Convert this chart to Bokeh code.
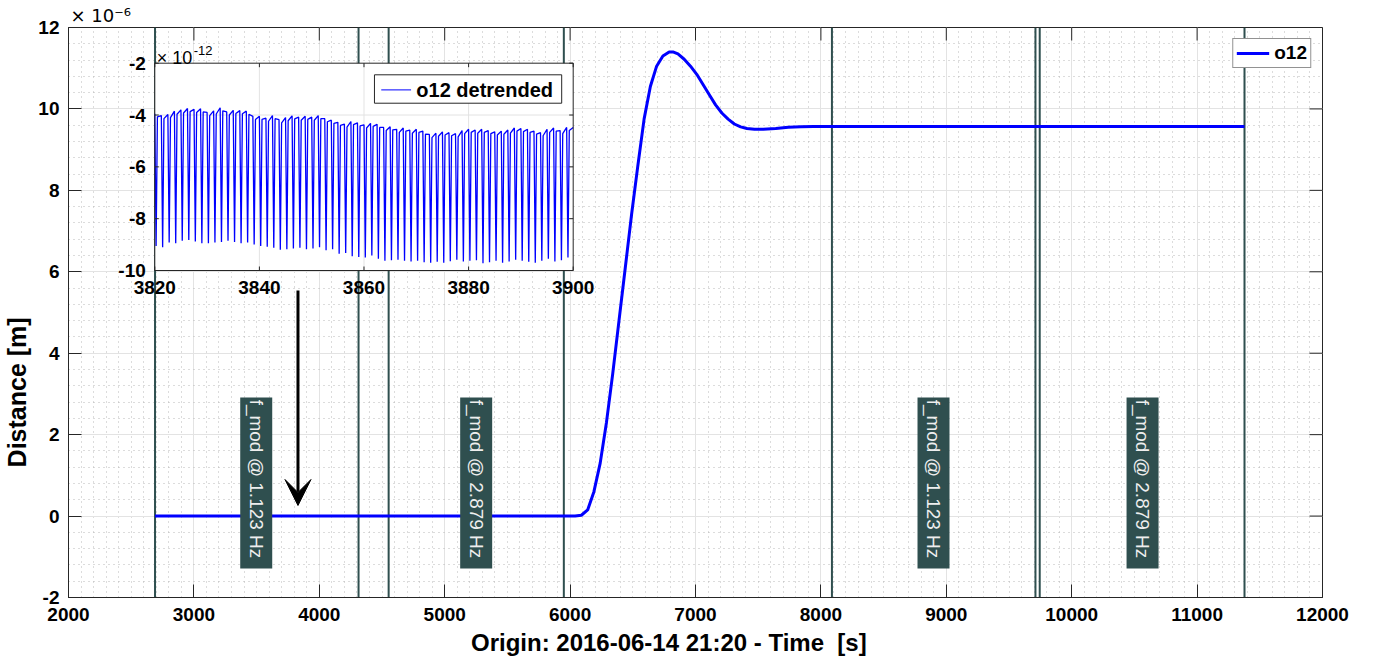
import numpy as np
from math import pi
from bokeh.plotting import figure
from bokeh.models import (Range1d, SingleIntervalTicker, Label, Arrow, Title,
                          VeeHead, Legend, LegendItem)
from bokeh.embed import file_html
from bokeh.resources import INLINE

# ---------------- data ----------------
t_main = [2690, 6000, 6040, 6090, 6140, 6190, 6240, 6290, 6340, 6390, 6440, 6490, 6540,
          6590, 6640, 6690, 6740, 6790, 6820, 6860, 6910, 6960, 7010, 7060, 7110, 7160,
          7210, 7260, 7310, 7360, 7410, 7470, 7540, 7640, 7740, 7840, 7940, 8090, 11378]
d_main = [0.0, 0.0, 0.0, 0.02, 0.15, 0.6, 1.3, 2.3, 3.5, 4.8, 6.1, 7.4, 8.6,
          9.75, 10.55, 11.05, 11.3, 11.4, 11.4, 11.35, 11.22, 11.05, 10.85, 10.6, 10.35, 10.1,
          9.9, 9.75, 9.63, 9.56, 9.52, 9.5, 9.5, 9.52, 9.55, 9.56, 9.57, 9.57, 9.57]

vline_x = [2690, 4313, 4553, 5950, 8088, 9711, 9745, 11378]
label_x = [3497, 5251, 8898, 10565]
label_text = ["f_mod @ 1.123 Hz", "f_mod @ 2.879 Hz", "f_mod @ 1.123 Hz", "f_mod @ 2.879 Hz"]

x_ticks_main = list(range(2000, 12001, 1000))
y_ticks_main = list(range(-2, 13, 2))

# inset: detrended o12, per-cycle upper and lower extremes (x 1e-12 m)
inset_t0 = 3820
inset_period = 1.25
inset_upper = [-3.95, -4.02, -3.98, -3.85, -3.80, -3.75, -3.78, -3.76,
               -3.90, -3.84, -3.72, -3.88, -3.82, -3.83, -3.85, -4.05,
               -4.05, -4.12, -4.02, -4.18, -4.10, -4.03, -4.08, -4.05,
               -4.08, -4.02, -4.14, -4.20, -4.28, -4.35, -4.25, -4.30,
               -4.38, -4.32, -4.36, -4.48, -4.45, -4.55, -4.50, -4.58,
               -4.55, -4.62, -4.75, -4.70, -4.65, -4.68, -4.72, -4.60,
               -4.55, -4.58, -4.55, -4.60, -4.65, -4.62, -4.58, -4.50,
               -4.52, -4.55, -4.62, -4.68, -4.55, -4.50, -4.60, -4.48]
inset_lower = [-9.05, -9.10, -8.92, -8.95, -8.85, -8.82, -8.88, -8.95,
               -8.95, -8.92, -8.90, -8.85, -8.90, -8.95, -8.92, -9.00,
               -9.05, -9.08, -9.12, -9.20, -9.18, -9.15, -9.12, -9.18,
               -9.15, -9.10, -9.22, -9.18, -9.35, -9.32, -9.45, -9.48,
               -9.50, -9.42, -9.55, -9.62, -9.60, -9.58, -9.62, -9.65,
               -9.62, -9.68, -9.70, -9.66, -9.70, -9.64, -9.58, -9.65,
               -9.62, -9.60, -9.72, -9.68, -9.62, -9.70, -9.65, -9.58,
               -9.62, -9.66, -9.70, -9.62, -9.55, -9.65, -9.60, -9.50]
inset_x_ticks = [3820, 3840, 3860, 3880, 3900]
inset_y_ticks = [-2, -4, -6, -8, -10]

arrow_x = 3830
arrow_y = (5.54, 0.26)

# ---------------- figure ----------------
FONT = "Liberation Sans"
AX = "#262626"
NB = "\u00a0"

p = figure(frame_width=1254, frame_height=570, output_backend="svg", toolbar_location=None,
           x_range=Range1d(x_ticks_main[0], x_ticks_main[-1]),
           y_range=Range1d(y_ticks_main[0], y_ticks_main[-1]),
           min_border_left=68, min_border_right=38, min_border_top=27, min_border_bottom=66,
           background_fill_color="white", border_fill_color="white")
p.outline_line_color = AX

xt = SingleIntervalTicker(interval=1000, num_minor_ticks=10)
yt = SingleIntervalTicker(interval=2, num_minor_ticks=5)

xa = p.below[0]
ya = p.left[0]
xa.ticker = xt
ya.ticker = yt
p.xgrid.ticker = xt
p.ygrid.ticker = yt

for ax in (xa, ya):
    ax.major_tick_in = 13
    ax.major_tick_out = 0
    ax.minor_tick_in = 0
    ax.minor_tick_out = 0
    ax.axis_line_color = AX
    ax.major_tick_line_color = AX
    ax.major_label_text_font = FONT
    ax.major_label_text_font_style = "bold"
    ax.major_label_text_font_size = "19px"
    ax.major_label_text_color = "black"
    ax.axis_label_text_font = FONT
    ax.axis_label_text_font_style = "bold"
    ax.axis_label_text_color = "black"

ya.major_label_overrides = {v: str(v) for v in y_ticks_main if v < 0}

xa.major_label_standoff = 10
xa.axis_label_standoff = 5
ya.major_label_standoff = 9
ya.axis_label_standoff = 4
xa.axis_label_text_font_size = "24px"
ya.axis_label_text_font_size = "25px"

xa.axis_label = "Origin: 2016-06-14 21:20 - Time" + NB + " [s]" + NB * 8
ya.axis_label = "Distance [m]" + NB * 23

# top / right box ticks (inside)
p.ray(x=x_ticks_main, y=y_ticks_main[-1], length=13, length_units="screen",
      angle=-pi / 2, line_color=AX)
p.ray(x=x_ticks_main[-1], y=y_ticks_main, length=13, length_units="screen",
      angle=pi, line_color=AX)

for g in (p.xgrid, p.ygrid):
    g.grid_line_color = "#e3e3e3"
    g.grid_line_width = 1
    g.minor_grid_line_color = "#b8b8b8"
    g.minor_grid_line_dash = "1 4"
    g.minor_grid_line_width = 1

# exponent label of main axis
p.add_layout(Title(text="\u00d7 10\u207b\u2076", align="left", offset=2, standoff=3,
                   text_font="DejaVu Sans", text_font_size="18px", text_font_style="normal",
                   text_color="black"), "above")

# vertical marker lines
p.segment(x0=vline_x, y0=y_ticks_main[0], x1=vline_x, y1=y_ticks_main[-1],
          line_color="#2F4F4F", line_width=2)

# main series
main_line = p.line(t_main, d_main, line_color="blue", line_width=3)

# label boxes
p.rect(x=label_x, y=[0.81] * len(label_x), width=32, height=171,
       width_units="screen", height_units="screen",
       fill_color="#2F4F4F", line_color=None)
p.text(x=label_x, y=[2.86] * len(label_x), text=label_text, angle=-pi / 2,
       text_align="left", text_baseline="middle", text_font_size="19px",
       text_color="#eeeeee", text_font={"value": FONT})

# ---------------- inset (mapped through extra ranges) ----------------
p.extra_x_ranges = {"ix": Range1d(3803.50, 4043.27)}
p.extra_y_ranges = {"iy": Range1d(-22.619, -0.6223)}
IR = dict(x_range_name="ix", y_range_name="iy")

ix0, ix1 = inset_x_ticks[0], inset_x_ticks[-1]
iy0, iy1 = inset_y_ticks[-1], inset_y_ticks[0]

p.quad(left=[ix0], right=[ix1], bottom=[iy0], top=[iy1], fill_color="white",
       line_color=None, **IR)
gx = inset_x_ticks[1:-1]
gy = inset_y_ticks[1:-1]
p.segment(x0=gx, y0=iy0, x1=gx, y1=iy1, line_color="#e3e3e3", line_width=1, **IR)
p.segment(x0=ix0, y0=gy, x1=ix1, y1=gy, line_color="#e3e3e3", line_width=1, **IR)

wx, wy = [], []
for i, (u, l) in enumerate(zip(inset_upper, inset_lower)):
    t = inset_t0 + i * inset_period
    wx += [t, t + 0.2 * inset_period, t + 0.4 * inset_period]
    wy += [u, l, u - 0.12]
wx.append(ix1)
wy.append(inset_upper[-1])
inset_line = p.line(wx, wy, line_color="blue", line_width=1.3, **IR)

# inset ticks
p.ray(x=inset_x_ticks, y=iy0, length=4, length_units="screen", angle=pi / 2,
      line_color=AX, **IR)
p.ray(x=inset_x_ticks, y=iy1, length=4, length_units="screen", angle=-pi / 2,
      line_color=AX, **IR)
p.ray(x=ix0, y=inset_y_ticks, length=4, length_units="screen", angle=0,
      line_color=AX, **IR)
p.ray(x=ix1, y=inset_y_ticks, length=4, length_units="screen", angle=pi,
      line_color=AX, **IR)
p.quad(left=[ix0], right=[ix1], bottom=[iy0], top=[iy1], fill_color=None,
       line_color=AX, line_width=1, **IR)

p.text(x=inset_x_ticks, y=iy0, text=[str(v) for v in inset_x_ticks], y_offset=10,
       text_align="center", text_baseline="top", text_font_size="19px",
       text_font_style="bold", text_color="black", text_font={"value": FONT}, **IR)
p.text(x=ix0, y=inset_y_ticks, text=[str(v) for v in inset_y_ticks], x_offset=-9,
       text_align="right", text_baseline="middle", text_font_size="19px",
       text_font_style="bold", text_color="black", text_font={"value": FONT}, **IR)

p.add_layout(Label(x=ix0, y=iy1, x_offset=2, y_offset=5, text="\u00d7 10",
                   text_font=FONT, text_font_size="18px", text_color="black",
                   text_baseline="alphabetic", **IR))
p.add_layout(Label(x=ix0, y=iy1, x_offset=39, y_offset=13, text="-12",
                   text_font=FONT, text_font_size="13px", text_color="black",
                   text_baseline="alphabetic", **IR))

# inset legend
p.quad(left=[3862.0], right=[3897.8], bottom=[-3.544], top=[-2.448], fill_color="white",
       line_color=AX, line_width=1, **IR)
p.segment(x0=[3863.3], y0=[-3.03], x1=[3869.0], y1=[-3.03], line_color="blue",
          line_width=1, **IR)
p.text(x=[3870.0], y=[-3.03], text=["o12 detrended"], text_align="left",
       text_baseline="middle", text_font_size="20px", text_font_style="bold",
       text_color="black", text_font={"value": FONT}, **IR)

# arrow
p.add_layout(Arrow(x_start=arrow_x, y_start=arrow_y[0], x_end=arrow_x, y_end=arrow_y[1],
                   line_color="black", line_width=3,
                   end=VeeHead(size=26, fill_color="black", line_color="black")))

# main legend
leg = Legend(items=[LegendItem(label="o12", renderers=[main_line])],
             location="top_right", margin=11, padding=3, spacing=0,
             glyph_width=33, glyph_height=18, label_standoff=5,
             label_text_font=FONT, label_text_font_style="bold",
             label_text_font_size="19px", label_text_color="black",
             border_line_color=AX, border_line_width=1,
             background_fill_color="white", background_fill_alpha=1)
p.add_layout(leg)

open("out.html", "w").write(file_html(p, INLINE))
